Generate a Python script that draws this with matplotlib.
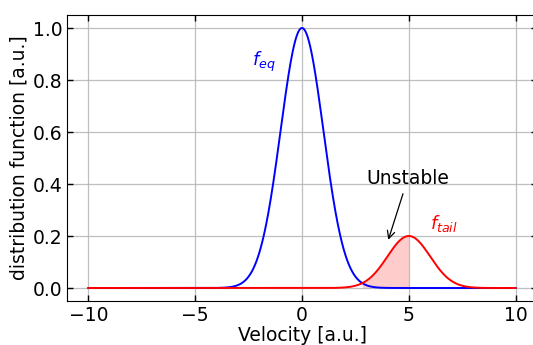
import numpy as np
import matplotlib
matplotlib.use("Agg")
import matplotlib.pyplot as plt

# peak parameters
labels = ["$f_{eq}$", "$f_{tail}$"]
centers = [0.0, 5.0]
heights = [1.0, 0.2]
widths = [1.0, 1.0]
colors = ["blue", "red"]
x_ticks = [-10, -5, 0, 5, 10]
y_ticks = [0.0, 0.2, 0.4, 0.6, 0.8, 1.0]

v = np.linspace(-10, 10, 2001)
curves = [h * np.exp(-(v - c) ** 2 / (2 * w ** 2))
          for c, h, w in zip(centers, heights, widths)]

fig = plt.figure(figsize=(5.33, 3.45), dpi=100)
ax = fig.add_axes([67 / 533, 44 / 345, 470 / 533, 286 / 345])

for f, col in zip(curves, colors):
    ax.plot(v, f, color=col, lw=1.4)

# unstable part: from crossing point up to the tail peak
v_cross = v[np.argmax((curves[1] > curves[0]) & (v > 0))]
mask = (v >= v_cross) & (v <= centers[1])
ax.fill_between(v, 0, curves[1], where=mask, color="red", alpha=0.2, lw=0)

ax.text(-1.8, 0.87, labels[0], color="blue", fontsize=13, ha="center", va="center")
ax.text(6.65, 0.25, labels[1], color="red", fontsize=13, ha="center", va="center")
ax.annotate("Unstable", xy=(4.0, 0.175), xytext=(4.95, 0.42),
            fontsize=13.5, ha="center", va="center",
            arrowprops=dict(arrowstyle="->", color="black", lw=0.9))

ax.set_xlim(-11, 11)
ax.set_ylim(-0.05, 1.05)
ax.set_xticks(x_ticks)
ax.set_yticks(y_ticks)
ax.grid(True, color="#b0b0b0", lw=0.9, alpha=0.8)
ax.tick_params(direction="in", top=True, right=True, labelsize=13.5, length=4, width=1)
ax.set_xlabel("Velocity [a.u.]", fontsize=13.5, labelpad=1)
ax.set_ylabel("distribution function [a.u.]", fontsize=13.5, labelpad=3)

fig.savefig("out.png", dpi=100)
